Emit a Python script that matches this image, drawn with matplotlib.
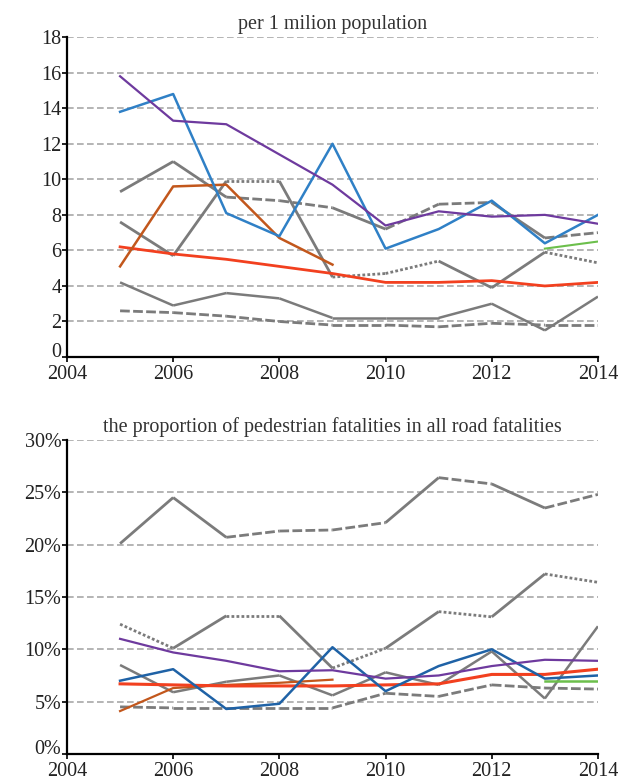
import matplotlib
matplotlib.use('Agg')
import matplotlib.pyplot as plt
import matplotlib.transforms as mtransforms

plt.rcParams['font.family'] = ['Liberation Serif', 'DejaVu Serif']

years = [2005, 2006, 2007, 2008, 2009, 2010, 2011, 2012, 2013, 2014]

# ---- per 1 milion population ----
top_purple = [15.8, 13.3, 13.1, 11.4, 9.7, 7.4, 8.2, 7.9, 8.0, 7.5]
top_blue = [13.8, 14.8, 8.1, 6.8, 12.0, 6.1, 7.2, 8.8, 6.4, 8.0]
top_orange = [5.1, 9.6, 9.7, 6.7, 5.2]
top_red = [6.2, 5.8, 5.5, 5.1, 4.7, 4.2, 4.2, 4.3, 4.0, 4.2]
top_green = [6.1, 6.5]
top_gray1 = [9.3, 11.0, 9.0, 8.8, 8.4, 7.2, 8.6, 8.7, 6.7, 7.0]
top_gray2 = [7.6, 5.7, 9.9, 9.9, 4.5, 4.7, 5.4, 3.9, 5.9, 5.3]
top_gray3 = [4.2, 2.9, 3.6, 3.3, 2.2, 2.2, 2.2, 3.0, 1.5, 3.4]
top_gray4 = [2.6, 2.5, 2.3, 2.0, 1.8, 1.8, 1.7, 1.9, 1.8, 1.8]

# ---- proportion of pedestrian fatalities (%) ----
bot_gray1 = [20.1, 24.5, 20.7, 21.3, 21.4, 22.1, 26.4, 25.8, 23.5, 24.8]
bot_gray2 = [12.4, 10.1, 13.2, 13.2, 8.2, 10.1, 13.6, 13.1, 17.2, 16.4]
bot_gray3 = [8.5, 5.9, 6.9, 7.5, 5.6, 7.8, 6.6, 9.8, 5.3, 12.2]
bot_gray4 = [4.5, 4.4, 4.4, 4.4, 4.4, 5.8, 5.5, 6.6, 6.3, 6.2]
bot_purple = [11.0, 9.7, 8.9, 7.9, 8.0, 7.2, 7.5, 8.4, 9.0, 8.9]
bot_blue = [7.0, 8.1, 4.3, 4.8, 10.2, 6.0, 8.4, 10.0, 7.2, 7.5]
bot_red = [6.7, 6.6, 6.5, 6.5, 6.5, 6.6, 6.7, 7.6, 7.6, 8.1]
bot_orange = [4.1, 6.3, 6.6, 6.8, 7.1]
bot_green = [7.0, 7.0]

GRAY = '#7b7b7b'
SOLID = '-'
DASH = (0, (3.5, 1.2))
DOT = (0, (1, 0.8))


def seg_plot(ax, vals, styles, lw=1.8):
    # draw each year-to-year segment with its own line style
    for i, st in enumerate(styles):
        ax.plot(years[i:i + 2], vals[i:i + 2], color=GRAY, lw=lw,
                linestyle=st, solid_capstyle='butt', dash_capstyle='butt')


def style_axes(ax, ymax, step, title, pct=False):
    ax.set_xlim(2004, 2014)
    ax.set_ylim(0, ymax)
    ax.set_xticks(range(2004, 2015, 2))
    ax.set_yticks([i * step for i in range(int(ymax / step) + 1)])
    if pct:
        ax.set_yticklabels([f'{int(v)}%' for v in ax.get_yticks()])
    ax.spines['top'].set_visible(False)
    ax.spines['right'].set_visible(False)
    ax.spines['left'].set_linewidth(1.6)
    ax.spines['bottom'].set_linewidth(1.6)
    ax.tick_params(axis='both', labelsize=14.5, width=1.4, length=3.5,
                   colors='#222222', pad=0.5)
    ax.tick_params(axis='x', pad=2.5)
    ax.yaxis.grid(True, color='#a8a8a8', linestyle=(0, (4, 2)), lw=1.2)
    ax.set_axisbelow(True)
    ax.set_title(title, fontsize=14.5, color='#333333', pad=6)
    # lift the "0" label a little so it clears the first year label
    lab = ax.yaxis.get_major_ticks()[0].label1
    lab.set_transform(lab.get_transform() +
                      mtransforms.ScaledTranslation(0, 5 / 72, fig.dpi_scale_trans))


fig = plt.figure(figsize=(6.44, 7.84), dpi=100)

# ==================== top chart ====================
ax1 = fig.add_axes([0.104, 0.5446, 0.8245, 0.408])
style_axes(ax1, 18, 2, 'per 1 milion population')

seg_plot(ax1, top_gray4, [DASH] * 9, lw=2.0)
seg_plot(ax1, top_gray3, [SOLID] * 9)
seg_plot(ax1, top_gray2, [SOLID, SOLID, DOT, SOLID, DOT, DOT, SOLID, SOLID, DOT], lw=2.0)
seg_plot(ax1, top_gray1, [SOLID, SOLID, DASH, DASH, SOLID, DASH, DASH, SOLID, DASH], lw=2.0)
ax1.plot(years, top_red, color='#f2401f', lw=2.0)
ax1.plot(years[:5], top_orange, color='#c2571c', lw=1.8)
ax1.plot(years[8:], top_green, color='#6cbf4c', lw=1.5)
ax1.plot(years, top_blue, color='#2f80c6', lw=1.8)
ax1.plot(years, top_purple, color='#6e3a9e', lw=1.6)

# ==================== bottom chart ====================
ax2 = fig.add_axes([0.104, 0.0383, 0.8245, 0.4005])
style_axes(ax2, 30, 5, 'the proportion of pedestrian fatalities in all road fatalities', pct=True)

seg_plot(ax2, bot_gray4, [DASH] * 9, lw=2.0)
seg_plot(ax2, bot_gray3, [SOLID] * 9)
seg_plot(ax2, bot_gray2, [DOT, SOLID, DOT, SOLID, DOT, SOLID, DOT, SOLID, DOT], lw=2.0)
seg_plot(ax2, bot_gray1, [SOLID, SOLID, DASH, DASH, DASH, SOLID, DASH, SOLID, DASH], lw=2.0)
ax2.plot(years[:5], bot_orange, color='#c2571c', lw=1.6)
ax2.plot(years, bot_red, color='#f2401f', lw=2.2)
ax2.plot(years[8:], bot_green, color='#6cbf4c', lw=1.8)
ax2.plot(years, bot_blue, color='#1f62a6', lw=1.8)
ax2.plot(years, bot_purple, color='#6e3a9e', lw=1.6)

plt.savefig('out.png', dpi=100)
